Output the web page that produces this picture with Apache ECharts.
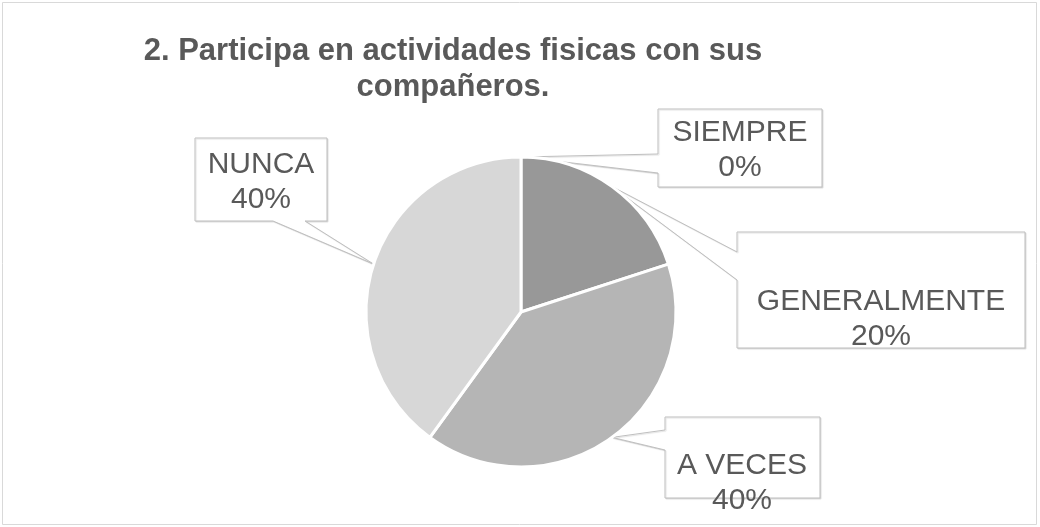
<!DOCTYPE html>
<html>
<head>
<meta charset="utf-8">
<script src="https://cdn.jsdelivr.net/npm/echarts@6/dist/echarts.min.js"></script>
<style>
html,body{margin:0;padding:0;background:#fff;}
#chart{width:1040px;height:527px;}
</style>
</head>
<body>
<div id="chart"></div>
<script>
// ---- data ----
const titleText = '2. Participa en actividades fisicas con sus\ncompañeros.';
const categories = ['SIEMPRE', 'GENERALMENTE', 'A VECES', 'NUNCA'];
const percentValues = [0, 20, 40, 40];
const sliceColors = ['#7f7f7f', '#989898', '#b5b5b5', '#d7d7d7'];

// ---- layout (positions only) ----
const FONT = '"Liberation Sans", Arial, sans-serif';
const CX = 521, CY = 312, R = 155;
// callout boxes: [x0, y0, x1, y1], side of pointer, base start, base end, text centre
const calloutBoxes = [
  {box: [658, 109, 822, 187], side: 'left', b0: 154, b1: 173, text: [740, 150]},
  {box: [737, 232, 1025, 348], side: 'left', b0: 252, b1: 280, text: [881, 319]},
  {box: [665, 417, 820, 498], side: 'left', b0: 430, b1: 450, text: [742, 483]},
  {box: [195, 138, 327, 221], side: 'bottom', b0: 273, b1: 305, text: [261, 182]}
];

const total = percentValues.reduce((a, b) => a + b, 0);
function tipPoint(i) {
  let cum = 0;
  for (let k = 0; k < i; k++) cum += percentValues[k];
  const mid = (cum + percentValues[i] / 2) / total * 2 * Math.PI;
  return [CX + R * Math.sin(mid), CY - R * Math.cos(mid)];
}
function calloutPoints(i) {
  const c = calloutBoxes[i];
  const [x0, y0, x1, y1] = c.box;
  const t = tipPoint(i);
  if (c.side === 'left') {
    return [[x0, y0], [x1, y0], [x1, y1], [x0, y1], [x0, c.b1], t, [x0, c.b0]];
  }
  return [[x0, y0], [x1, y0], [x1, y1], [c.b1, y1], t, [c.b0, y1], [x0, y1]];
}

const graphics = [
  {type: 'rect', z: 0, shape: {x: 2.5, y: 2.5, width: 1034, height: 522},
   style: {fill: '#fff', stroke: '#d9d9d9', lineWidth: 1}}
];
categories.forEach((c, i) => {
  graphics.push({type: 'polygon', z: 1, shape: {points: calloutPoints(i)},
    style: {fill: '#fff', stroke: '#bfbfbf', lineWidth: 1,
            shadowColor: 'rgba(0,0,0,0.12)', shadowOffsetX: 1, shadowOffsetY: 1, shadowBlur: 1}});
});

const chart = echarts.init(document.getElementById('chart'), null, {renderer: 'canvas'});
chart.setOption({
  animation: false,
  backgroundColor: '#fff',
  title: {
    text: titleText,
    left: 453,
    top: 33,
    textAlign: 'center',
    padding: 0,
    textStyle: {fontFamily: FONT, fontSize: 31, fontWeight: 'bold', color: '#595959', lineHeight: 36}
  },
  graphic: graphics,
  series: [{
    type: 'pie',
    z: 2,
    center: [CX, CY],
    radius: R,
    startAngle: 90,
    clockwise: true,
    avoidLabelOverlap: false,
    stillShowZeroSum: true,
    data: categories.map((c, i) => ({name: c, value: percentValues[i], itemStyle: {color: sliceColors[i]}})),
    itemStyle: {borderColor: '#fff', borderWidth: 3},
    emphasis: {disabled: true},
    label: {
      show: true,
      position: 'outside',
      formatter: p => p.name + '\n' + Math.round(p.percent) + '%',
      fontFamily: FONT,
      fontSize: 30,
      lineHeight: 35,
      color: '#595959',
      align: 'center'
    },
    labelLine: {show: false},
    labelLayout: p => {
      const t = calloutBoxes[p.dataIndex].text;
      return {x: t[0], y: t[1], align: 'center', verticalAlign: 'middle'};
    }
  }]
});
</script>
</body>
</html>
